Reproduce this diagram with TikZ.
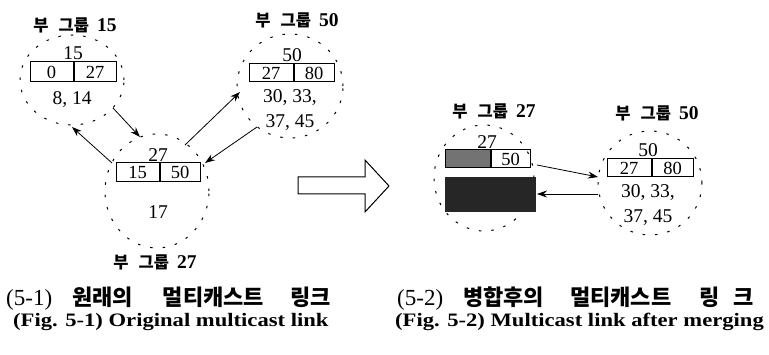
\documentclass[tikz,border=0pt]{standalone}
\usepackage{fontspec}
\setmainfont{Liberation Serif}
\newfontfamily\kr{Noto Sans CJK KR}
\usetikzlibrary{shapes.geometric,arrows.meta}
\tikzset{
  grp/.style={ellipse, draw, line width=1pt, dash pattern=on 2.5pt off 10pt, inner sep=0pt},
  cell/.style={draw, line width=1pt, inner sep=0pt, font=\fontsize{18.5}{18.5}\selectfont},
  num/.style={inner sep=0pt, font=\fontsize{19.5}{19.5}\selectfont},
  glabel/.style={inner sep=0pt, font=\kr\bfseries\fontsize{16.5}{16.5}\selectfont},
  link/.style={line width=0.8pt, -{Stealth[length=10pt,width=7pt]}},
  capkr/.style={inner sep=0pt, anchor=west, font=\kr\bfseries\fontsize{22}{22}\selectfont},
  capen/.style={inner sep=0pt, anchor=west},
  bigarrow/.style={draw, line width=1pt, line join=miter, fill=white}
}
\newcommand{\grpl}[1]{부\hspace{10pt}그룹\hspace{8pt}{\rmfamily\fontsize{19.5}{19.5}\selectfont #1}}
\newcommand{\enc}[1]{\scalebox{1.19}[1]{\bfseries\fontsize{19}{19}\selectfont #1}}
\newcommand{\krparen}[1]{{\rmfamily\mdseries\fontsize{23}{23}\selectfont #1}}
\begin{document}
\begin{tikzpicture}[x=1pt,y=-1pt]
\useasboundingbox (0,0) rectangle (769,355);

% ---------- left: group 15 ----------
\node[grp, minimum width=104pt, minimum height=90pt] (g15) at (72,80) {};
\node[glabel] (l15) at (75,25) {\grpl{15}};
\node[num] (t15) at (73,53) {15};
\node[cell, minimum width=43pt, minimum height=20pt] (b15a) at (51.5,72) {0};
\node[cell, minimum width=42pt, minimum height=20pt, anchor=west] (b15b) at (b15a.east) {27};
\node[num] (m15) at (72,100) {8, 14};

% ---------- left: group 27 ----------
\node[grp, minimum width=104pt, minimum height=114pt] (g27) at (157,191) {};
\node[num] (t27) at (158,155) {27};
\node[cell, minimum width=43pt, minimum height=19pt] (b27a) at (137.5,172.5) {15};
\node[cell, minimum width=40pt, minimum height=19pt, anchor=west] (b27b) at (b27a.east) {50};
\node[num] (m27) at (158,212) {17};
\node[glabel] (l27) at (155,262) {\grpl{27}};

% ---------- left: group 50 ----------
\node[grp, minimum width=106pt, minimum height=104pt] (g50) at (290,86) {};
\node[glabel] (l50) at (297,20) {\grpl{50}};
\node[num] (t50) at (292,55) {50};
\node[cell, minimum width=44pt, minimum height=18pt] (b50a) at (271,73) {27};
\node[cell, minimum width=40pt, minimum height=18pt, anchor=west] (b50b) at (b50a.east) {80};
\node[num] (m50a) at (290,98) {30, 33,};
\node[num] (m50b) at (290,123) {37, 45};

% links (left)
\coordinate (a1s) at (113,108); \coordinate (a1e) at (140,137);
\coordinate (a2s) at (112,163); \coordinate (a2e) at (72,127);
\coordinate (a3s) at (185,145); \coordinate (a3e) at (240,92);
\coordinate (a4s) at (257,127); \coordinate (a4e) at (205,163);
\draw[link] (a1s) -- (a1e);
\draw[link] (a2s) -- (a2e);
\draw[link] (a3s) -- (a3e);
\draw[link] (a4s) -- (a4e);

% ---------- big hollow arrow ----------
\draw[bigarrow] (298,177) -- (365,177) -- (365,160) -- (389,186) -- (365,212) -- (365,194) -- (298,194) -- cycle;

% ---------- right: merged group 27 ----------
\node[grp, minimum width=100pt, minimum height=106pt] (h27) at (484,178) {};
\node[glabel] (r27) at (494,111) {\grpl{27}};
\node[num] (u27) at (487,142) {27};
\node[cell, fill=black!55, minimum width=45pt, minimum height=18pt] (c27a) at (467.5,159) {};
\node[cell, minimum width=39pt, minimum height=18pt, anchor=west] (c27b) at (c27a.east) {50};
\node[fill=black!85, inner sep=0pt, minimum width=91pt, minimum height=35pt] (blk) at (490.5,194.5) {};

% ---------- right: group 50 ----------
\node[grp, minimum width=104pt, minimum height=104pt] (h50) at (650,183) {};
\node[glabel] (r50) at (657,113) {\grpl{50}};
\node[num] (u50) at (648,150) {50};
\node[cell, minimum width=44pt, minimum height=18pt] (c50a) at (629,168) {27};
\node[cell, minimum width=41pt, minimum height=18pt, anchor=west] (c50b) at (c50a.east) {80};
\node[num] (n50a) at (648,193) {30, 33,};
\node[num] (n50b) at (648,218) {37, 45};

% links (right)
\coordinate (b1s) at (537,165); \coordinate (b1e) at (598,177);
\coordinate (b2s) at (598,194); \coordinate (b2e) at (537,194);
\draw[link] (b1s) -- (b1e);
\draw[link] (b2s) -- (b2e);

% ---------- captions ----------
\node[capkr] (k1) at (6,299) {\krparen{(5-1)}\hspace{20pt}원래의\hspace{30pt}멀티캐스트\hspace{26pt}링크};
\node[capen] (e1) at (13,322) {\enc{(Fig. 5-1) Original multicast link}};
\node[capkr] (k2) at (397,299) {\krparen{(5-2)}\hspace{20pt}병합후의\hspace{26pt}멀티캐스트\hspace{28pt}링\hspace{14pt}크};
\node[capen] (e2) at (395,322) {\enc{(Fig. 5-2) Multicast link after merging}};
\end{tikzpicture}
\end{document}
